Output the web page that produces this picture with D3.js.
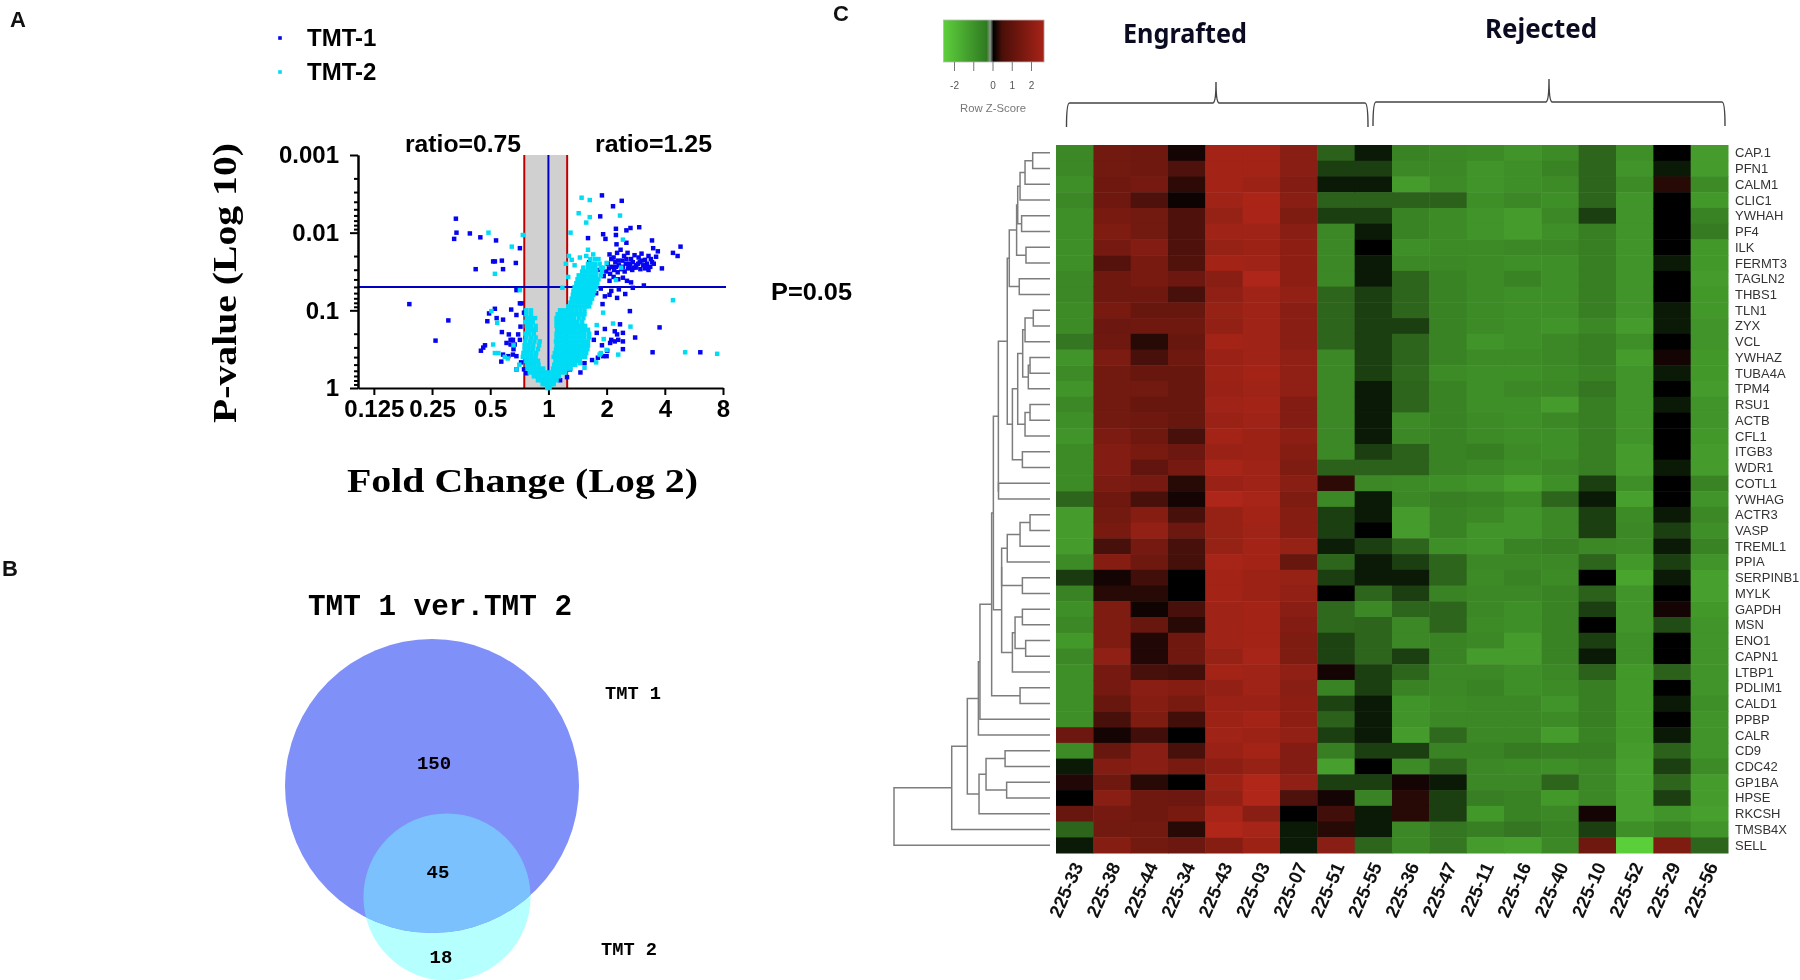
<!DOCTYPE html>
<html>
<head>
<meta charset="utf-8">
<script src="https://cdn.jsdelivr.net/npm/d3@7"></script>
<style>
html, body { margin: 0; background: #fff; }
svg { display: block; filter: blur(0.6px); }
</style>
</head>
<body>
<script>
// ---- panel A: volcano, values are [log2 fold change, -log10 p]
const foldTicks = [0.125, 0.25, 0.5, 1, 2, 4, 8];
const pTicks = [1, 0.1, 0.01, 0.001];
const pMinor = [0.9,0.8,0.7,0.6,0.5,0.4,0.3,0.2,0.09,0.08,0.07,0.06,0.05,0.04,0.03,0.02,0.009,0.008,0.007,0.006,0.005,0.004,0.003,0.002];
const ratioLines = [0.75, 1.25];
const pCut = 0.05;

const tmt1 = [
  [-1.59,2.18],[-1.58,2.0],[-1.62,1.92],[-1.35,1.99],[-1.17,1.94],[-0.9,1.9],[-0.49,1.8],[-0.92,1.63],[-0.95,1.63],[-0.8,1.64],
  [-0.56,1.61],[-0.78,1.53],[-1.25,1.53],[-2.39,1.08],[-1.72,0.87],[-1.94,0.61],[-0.55,1.26],[-0.92,1.02],[-1.02,0.96],[-1.05,0.86],
  [-0.89,0.9],[-0.78,0.88],[-0.64,1.01],[-0.55,0.94],[-0.49,1.09],[-0.46,1.09],[-0.42,0.97],[-0.48,0.79],[-0.8,0.72],[-0.68,0.69],
  [-0.65,0.62],[-0.61,0.62],[-0.65,0.56],[-0.58,0.56],[-0.49,0.62],[-0.52,0.69],[-1.16,0.48],[-1.09,0.55],[-1.12,0.52],[-0.78,0.43],
  [-0.61,0.43],[-0.81,0.34],[-0.69,0.41],[-0.55,0.41],[-0.55,0.24],[-0.42,0.24],[-0.38,0.19],[-0.6,0.5],[-0.72,0.58],[-0.47,0.33],
  [0.92,2.48],[1.11,2.34],[1.26,2.41],[0.89,2.21],[1.16,2.05],[1.16,1.97],[1.34,2.03],[1.41,2.06],[1.56,2.07],[0.68,1.93],
  [0.94,1.98],[0.98,1.92],[1.17,1.85],[1.34,1.87],[1.78,1.9],[2.27,1.82],[2.14,1.74],[2.22,1.7],[1.95,1.54],[1.8,1.8],[1.88,1.76],
  [1.05,1.72],[1.12,1.68],[1.18,1.74],[1.24,1.78],[1.3,1.7],[1.36,1.74],[1.42,1.66],[1.48,1.71],[1.55,1.68],[1.6,1.73],[1.66,1.65],
  [1.72,1.7],[1.78,1.62],[1.85,1.69],[1.02,1.6],[1.09,1.56],[1.15,1.62],[1.21,1.58],[1.27,1.64],[1.33,1.6],[1.39,1.57],[1.45,1.62],
  [1.51,1.58],[1.57,1.62],[1.63,1.58],[1.69,1.6],[1.75,1.56],[1.81,1.6],[0.99,1.5],[1.06,1.47],[1.13,1.52],[1.19,1.49],[1.25,1.53],
  [1.31,1.5],[1.37,1.54],[1.44,1.52],[1.5,1.55],[1.58,1.53],[1.66,1.54],[1.72,1.52],[1.12,1.43],[1.2,1.4],[1.28,1.42],[1.05,1.38],
  [1.35,1.38],[1.42,1.36],[0.95,1.44],[0.88,1.52],[0.8,1.58],[0.7,1.62],
  [1.08,1.66],[1.2,1.64],[1.34,1.66],[1.46,1.55],[1.54,1.6],[1.6,1.64],[1.68,1.57],[1.76,1.66],[1.04,1.54],[1.16,1.56],[1.28,1.56],[1.4,1.6],
  [1.64,1.32],[1.45,1.29],[1.32,1.21],[1.21,1.27],[1.08,1.25],[0.97,1.18],[1.05,1.2],[1.18,1.16],[0.93,1.08],[0.9,1.28],[0.82,1.22],
  [1.4,0.99],[1.23,0.82],[1.14,0.73],[0.97,0.76],[0.83,0.71],[1.91,0.78],[1.49,0.65],[1.28,0.71],[1.18,0.69],[1.08,0.62],[1.14,0.6],
  [1.06,0.58],[1.2,0.62],[1.28,0.6],[1.28,0.5],[1.79,0.46],[2.61,0.46],[0.94,0.41],[1.0,0.41],[0.85,0.39],[0.65,0.51],[0.62,0.32],
  [0.37,0.24],[0.25,0.24],[0.75,0.36],[0.55,0.2],[0.92,0.55],[1.01,0.48],[0.78,0.62],[0.2,0.1],[0.32,0.14]
];
const tmt2 = [
  [0.57,2.45],[0.71,2.42],[0.52,2.25],[1.23,2.22],[0.71,2.2],[0.65,2.13],[0.38,2.0],[-0.44,1.97],[-1.03,2.0],[-0.63,1.82],[-0.92,1.47],
  [-0.49,1.26],[1.28,1.91],[0.35,1.7],[0.34,1.43],[0.24,1.29],[0.68,1.78],[0.77,1.72],[0.65,1.7],[0.54,1.68],[1.0,1.61],[1.25,1.55],
  [1.16,1.39],[0.4,1.65],[0.45,1.58],[0.3,1.6],[-0.98,0.99],[-0.88,0.84],[-0.95,0.56],[-0.92,0.45],[-0.86,0.45],[-0.55,0.24],[0.94,0.97],
  [0.83,0.81],[1.11,0.83],[1.41,0.79],[1.2,0.43],[1.0,0.49],[0.88,0.43],[0.62,0.26],[0.54,0.32],[2.14,1.13],[2.35,0.46],[2.9,0.44],
  [-0.6,0.55],[-0.7,0.38],[-0.75,0.4],[-0.5,0.3],[0.95,0.63],[0.9,0.45],[0.82,0.33]
];
// dense part of the v, one line per -log10 p level
const tmt2Dense = [
  [0.0,[-0.02,0.02]],
  [0.05,[-0.1,-0.05,0,0.05,0.09]],
  [0.1,[-0.18,-0.12,-0.07,-0.02,0.04,0.09,0.14]],
  [0.15,[-0.25,-0.18,-0.12,-0.06,0,0.06,0.12,0.18]],
  [0.2,[-0.32,-0.26,-0.2,-0.14,-0.08,-0.02,0.05,0.11,0.17,0.23,0.29]],
  [0.25,[-0.36,-0.29,-0.22,-0.16,-0.09,0.08,0.14,0.2,0.26,0.32,0.38]],
  [0.3,[-0.37,-0.3,-0.24,-0.17,0.1,0.16,0.22,0.28,0.34,0.4,0.46]],
  [0.35,[-0.38,-0.31,-0.25,-0.18,0.12,0.18,0.24,0.3,0.36,0.42,0.48,0.54]],
  [0.4,[-0.44,-0.36,-0.29,-0.22,0.09,0.15,0.21,0.27,0.33,0.39,0.45,0.51,0.57,0.63]],
  [0.45,[-0.43,-0.36,-0.29,-0.21,0.11,0.17,0.23,0.29,0.35,0.41,0.47,0.53,0.59,0.65]],
  [0.5,[-0.41,-0.34,-0.27,-0.18,0.13,0.19,0.25,0.31,0.37,0.43,0.49,0.55,0.61,0.67]],
  [0.55,[-0.41,-0.34,-0.26,-0.16,0.14,0.2,0.26,0.32,0.38,0.44,0.5,0.56,0.62,0.68]],
  [0.6,[-0.4,-0.32,-0.24,-0.15,0.13,0.19,0.25,0.31,0.37,0.43,0.49,0.55,0.61,0.68]],
  [0.65,[-0.38,-0.3,-0.22,0.14,0.2,0.26,0.32,0.38,0.44,0.5,0.56,0.62,0.7]],
  [0.7,[-0.4,-0.33,-0.25,0.14,0.2,0.26,0.32,0.38,0.44,0.5,0.56,0.62,0.7]],
  [0.75,[-0.35,-0.28,-0.22,0.15,0.21,0.27,0.33,0.39,0.45,0.51,0.57,0.63,0.68]],
  [0.8,[-0.37,-0.3,-0.22,0.14,0.2,0.26,0.32,0.38,0.44,0.5,0.56,0.63]],
  [0.85,[-0.4,-0.33,-0.27,0.14,0.2,0.26,0.32,0.38,0.44,0.5,0.58]],
  [0.9,[-0.37,-0.3,-0.23,0.14,0.2,0.26,0.32,0.38,0.44,0.52,0.6]],
  [0.95,[-0.38,-0.3,0.16,0.23,0.3,0.37,0.44,0.5,0.56,0.62]],
  [1.0,[-0.38,-0.3,0.2,0.27,0.34,0.41,0.48,0.55,0.62]],
  [1.05,[0.34,0.4,0.46,0.52,0.58,0.64,0.7]],
  [1.1,[0.38,0.44,0.5,0.56,0.62,0.68,0.72]],
  [1.15,[0.4,0.46,0.52,0.58,0.64,0.7,0.75]],
  [1.2,[0.42,0.48,0.54,0.6,0.66,0.72,0.77]],
  [1.25,[0.43,0.49,0.55,0.61,0.67,0.73,0.79]],
  [1.3,[0.45,0.51,0.57,0.63,0.69,0.75,0.82]],
  [1.35,[0.48,0.54,0.6,0.66,0.72,0.78,0.84]],
  [1.4,[0.5,0.56,0.62,0.68,0.74,0.8,0.86]],
  [1.45,[0.52,0.58,0.64,0.7,0.76,0.82,0.9]],
  [1.5,[0.58,0.64,0.7,0.76,0.82,0.92]],
  [1.55,[0.6,0.68,0.74,0.8,0.9,0.94]],
  [1.6,[0.68,0.74,0.8,0.88]],
  [1.66,[0.72,0.8,0.86]]
];
const volcanoLegend = ['TMT-1', 'TMT-2'];
const volcanoColors = ['#0505f0', '#00dcf5'];

// ---- panel B: venn
const vennTitle = 'TMT 1 ver.TMT 2';
const vennCounts = [150, 45, 18];
const vennNames = ['TMT 1', 'TMT 2'];

// ---- panel C: heatmap
const genes = ['CAP.1','PFN1','CALM1','CLIC1','YWHAH','PF4','ILK','FERMT3','TAGLN2','THBS1','TLN1','ZYX','VCL','YWHAZ','TUBA4A','TPM4','RSU1','ACTB','CFL1','ITGB3','WDR1','COTL1','YWHAG','ACTR3','VASP','TREML1','PPIA','SERPINB1','MYLK','GAPDH','MSN','ENO1','CAPN1','LTBP1','PDLIM1','CALD1','PPBP','CALR','CD9','CDC42','GP1BA','HPSE','RKCSH','TMSB4X','SELL'];
const samples = ['225-33','225-38','225-44','225-34','225-43','225-03','225-07','225-51','225-55','225-36','225-47','225-11','225-16','225-40','225-10','225-52','225-29','225-56'];
// z-scores, one list per sample, genes top to bottom
const z33 = [-1.6,-1.6,-1.7,-1.6,-1.7,-1.7,-1.7,-1.7,-1.6,-1.6,-1.65,-1.65,-1.4,-1.75,-1.65,-1.75,-1.6,-1.7,-1.75,-1.65,-1.65,-1.65,-1.2,-1.85,-1.85,-1.85,-1.65,-0.7,-1.55,-1.7,-1.6,-1.8,-1.6,-1.7,-1.7,-1.7,-1.7,1.65,-1.65,-0.3,0.5,0,1.6,-1.2,-0.3];
const z38 = [1.75,1.75,1.7,1.7,1.85,1.95,1.8,1.3,1.7,1.7,1.85,1.65,1.7,1.9,1.75,1.75,1.75,1.75,1.9,2.0,2.0,1.9,1.7,1.75,1.85,1.1,2.05,0.3,0.6,1.95,1.95,1.95,2.2,1.8,1.8,1.6,1.1,0.3,1.6,2.0,1.7,2.1,1.8,1.75,2.05];
const z44 = [1.7,1.7,1.8,1.2,1.75,1.75,2.0,1.85,1.85,1.7,1.6,1.7,0.6,1.1,1.6,1.75,1.6,1.7,1.7,1.85,1.5,1.8,1.1,2.05,2.25,1.8,1.7,1.0,0.6,0.25,1.6,0.5,0.5,1.1,2.1,2.05,1.95,1.0,2.1,2.1,0.6,1.7,1.7,1.75,1.75];
const z34 = [0.3,1.2,0.7,0.2,1.2,1.2,1.2,1.25,1.65,1.1,1.6,1.7,1.6,1.7,1.6,1.6,1.6,1.6,1.1,1.65,1.8,0.6,0.3,1.1,1.65,1.1,1.05,0,0,1.1,0.6,1.7,1.7,1.0,2.05,1.85,1.0,0,1.1,1.85,0,1.65,1.85,0.6,1.65];
const z43 = [2.5,2.5,2.5,2.45,2.3,2.45,2.3,2.5,2.1,2.2,2.3,2.25,2.5,2.35,2.4,2.35,2.45,2.35,2.5,2.35,2.55,2.35,2.65,2.3,2.3,2.3,2.55,2.5,2.5,2.45,2.45,2.45,2.3,2.5,2.25,2.35,2.4,2.45,2.35,2.15,2.4,2.25,2.55,2.7,2.05];
const z03 = [2.5,2.5,2.4,2.6,2.6,2.45,2.4,2.45,2.65,2.45,2.45,2.45,2.45,2.45,2.5,2.45,2.5,2.45,2.4,2.4,2.45,2.45,2.55,2.5,2.45,2.5,2.5,2.4,2.4,2.5,2.5,2.5,2.55,2.45,2.45,2.35,2.5,2.4,2.5,2.3,2.7,2.7,2.1,2.55,2.4];
const z07 = [2.1,2.1,2.0,2.1,1.95,2.1,2.15,2.15,2.15,2.25,2.1,2.1,2.1,2.2,2.2,2.2,2.0,2.0,2.15,2.05,1.95,2.1,1.95,2.05,2.05,2.3,1.6,2.3,2.25,2.1,2.0,1.95,1.95,2.2,2.1,2.15,2.15,2.25,2.0,2.0,2.2,1.2,0,-0.3,-0.3];
const z51 = [-1.15,-0.75,-0.3,-1.15,-0.75,-1.6,-1.6,-1.6,-1.6,-1.2,-1.2,-1.2,-1.2,-1.6,-1.6,-1.6,-1.6,-1.6,-1.6,-1.6,-1.15,0.7,-1.6,-0.75,-0.75,-0.35,-1.2,-0.75,0,-1.25,-1.25,-0.8,-0.8,0.3,-1.55,-0.8,-1.15,-0.75,-1.5,-1.9,-0.75,0.3,1.0,0.6,2.1];
const z55 = [-0.3,-0.75,-0.3,-1.15,-0.75,-0.3,0,-0.3,-0.3,-0.75,-0.75,-0.75,-0.75,-0.75,-0.75,-0.3,-0.3,-0.3,-0.3,-0.75,-1.15,-1.6,-0.3,-0.3,0,-0.75,-0.3,-0.3,-1.2,-1.6,-1.2,-1.2,-1.2,-0.75,-0.75,-0.3,-0.3,-0.3,-0.75,0,-0.75,-1.55,-0.3,-0.3,-1.2];
const z36 = [-1.55,-1.6,-1.85,-1.15,-1.55,-1.55,-1.7,-1.6,-1.2,-1.2,-1.2,-0.75,-1.2,-1.2,-1.25,-1.2,-1.2,-1.65,-1.6,-1.15,-1.15,-1.65,-1.6,-1.85,-1.85,-1.2,-0.75,-0.3,-0.75,-1.2,-1.6,-1.6,-0.75,-1.2,-1.55,-1.75,-1.75,-1.85,-0.75,-1.65,0.3,0.6,0.6,-1.6,-1.6];
const z47 = [-1.6,-1.6,-1.65,-1.15,-1.65,-1.65,-1.65,-1.6,-1.55,-1.55,-1.55,-1.55,-1.55,-1.55,-1.65,-1.55,-1.55,-1.55,-1.55,-1.55,-1.55,-1.7,-1.5,-1.55,-1.55,-1.7,-1.2,-1.2,-1.55,-1.2,-1.2,-1.55,-1.55,-1.6,-1.6,-1.65,-1.6,-1.25,-1.55,-1.2,-0.3,-0.75,-0.75,-1.4,-1.4];
const z11 = [-1.65,-1.75,-1.75,-1.7,-1.75,-1.75,-1.65,-1.65,-1.65,-1.65,-1.65,-1.65,-1.75,-1.65,-1.7,-1.7,-1.7,-1.65,-1.65,-1.5,-1.6,-1.75,-1.55,-1.6,-1.75,-1.75,-1.6,-1.65,-1.6,-1.6,-1.65,-1.6,-1.85,-1.6,-1.55,-1.6,-1.6,-1.6,-1.55,-1.6,-1.6,-1.5,-1.8,-1.5,-1.85];
const z16 = [-1.75,-1.7,-1.7,-1.6,-1.85,-1.85,-1.6,-1.7,-1.55,-1.7,-1.7,-1.7,-1.7,-1.65,-1.7,-1.6,-1.7,-1.7,-1.7,-1.65,-1.7,-1.9,-1.65,-1.75,-1.75,-1.55,-1.6,-1.55,-1.6,-1.7,-1.7,-1.85,-1.85,-1.7,-1.7,-1.6,-1.6,-1.6,-1.45,-1.65,-1.6,-1.55,-1.55,-1.4,-1.9];
const z40 = [-1.65,-1.55,-1.65,-1.7,-1.6,-1.7,-1.6,-1.7,-1.7,-1.7,-1.7,-1.75,-1.6,-1.6,-1.65,-1.6,-1.85,-1.6,-1.7,-1.7,-1.6,-1.7,-1.2,-1.6,-1.6,-1.5,-1.6,-1.65,-1.55,-1.55,-1.55,-1.55,-1.55,-1.6,-1.65,-1.75,-1.65,-1.85,-1.5,-1.7,-1.2,-1.8,-1.6,-1.55,-1.6];
const z10 = [-1.2,-1.2,-1.2,-1.2,-0.75,-1.5,-1.5,-1.5,-1.5,-1.5,-1.5,-1.6,-1.5,-1.5,-1.55,-1.4,-1.5,-1.5,-1.5,-1.5,-1.5,-0.75,-0.3,-0.75,-0.75,-1.6,-1.2,0,-1.15,-0.75,0,-0.75,-0.3,-1.15,-1.5,-1.5,-1.5,-1.55,-1.5,-1.6,-1.6,-1.6,0.3,-0.75,1.7];
const z52 = [-1.7,-1.75,-1.65,-1.75,-1.75,-1.75,-1.75,-1.75,-1.75,-1.75,-1.75,-1.85,-1.7,-1.85,-1.75,-1.75,-1.75,-1.75,-1.75,-1.85,-1.85,-1.7,-1.9,-1.65,-1.6,-1.65,-1.8,-1.95,-1.75,-1.75,-1.75,-1.7,-1.7,-1.8,-1.8,-1.8,-1.8,-1.8,-1.85,-1.9,-1.9,-1.9,-1.9,-1.7,-2.45];
const z29 = [0,-0.3,0.6,0,0,0,0,-0.3,0,0,-0.3,-0.3,0,0.3,-0.3,0,-0.3,0,0,0,-0.3,0,0,-0.3,-0.75,-0.3,-0.75,-0.3,0,0.3,-0.9,0,0,-1.15,0,-0.3,0,-0.3,-1.15,-0.75,-1.2,-0.75,-1.75,-1.55,1.95];
const z56 = [-1.85,-1.85,-1.65,-1.8,-1.55,-1.45,-1.8,-1.8,-1.85,-1.8,-1.8,-1.75,-1.75,-1.8,-1.8,-1.85,-1.75,-1.75,-1.8,-1.85,-1.85,-1.55,-1.75,-1.6,-1.7,-1.55,-1.75,-1.9,-1.9,-1.8,-1.75,-1.75,-1.75,-1.75,-1.75,-1.7,-1.75,-1.75,-1.75,-1.65,-1.85,-1.85,-1.9,-1.75,-1.2];
const zColumns = [z33,z38,z44,z34,z43,z03,z07,z51,z55,z36,z47,z11,z16,z40,z10,z52,z29,z56];
const legendTicks = [-2, -1, 0, 1, 2];
const keyValues = [-2.55, -0.3, -0.12, 0.05, 0.5, 2.68];
const keyColors = ['#5ecf3c', '#2f7a22', '#8a9a88', '#000000', '#4a0f08', '#a82318'];
const groups = ['Engrafted', 'Rejected'];
// gene tree: [merge height, upper, lower], a bare number is a row index
const geneTree = [100,
  [63,
    [53,
      [45.9,
        [44.9,
          [37.4,
            [36.3,
              [33.1,
                [27.4,
                  [26.1,
                    [21.4,
                      [20.7, [19.2,[16,[11.1,0,1],2],3], [18.2,4,5]],
                      [15.4,6,7]],
                    [19.7,8,9]],
                  [24.1,
                    [20.7,
                      [17.5, [16,[10.7,10,11],12], [13.9,[12.8,13,14],15]],
                      [16,[12.8,16,17],18]],
                    [17.7,19,20]]],
                [33,21,22]],
              [31,
                [31,
                  [27.4,[19.2,[12.8,23,24],25],26],
                  [17.7,27,28]],
                [24.1,[22.4,[17.7,29,30],[15.6,31,32]],33]]],
            [19.2,34,35]],
          36],
        37],
      [45.5,
        [41,[28.8,38,39],[27.8,40,41]],
        42]],
    43],
  44];

// ---- layout
const width = 1800, height = 980;
const svg = d3.select('body').append('svg').attr('width', width).attr('height', height);
const sans = 'Liberation Sans, Arial, sans-serif';
const serif = 'Liberation Serif, Times New Roman, serif';
const mono = 'Liberation Mono, Courier New, monospace';
const note = 'Noto Sans, Open Sans, sans-serif';

function addText(parent, t, x, y, size, family, opts) {
  opts = opts || {};
  let el = parent.append('text').attr('x', x).attr('y', y)
    .style('font-family', family).style('font-size', size + 'px')
    .style('font-weight', opts.weight || 'normal')
    .attr('fill', opts.fill || '#000')
    .attr('text-anchor', opts.anchor || 'start')
    .text(t);
  if (opts.length) el.attr('textLength', opts.length).attr('lengthAdjust', 'spacingAndGlyphs');
  if (opts.rotate !== undefined) el.attr('transform', 'rotate(' + opts.rotate + ',' + x + ',' + y + ')');
  return el;
}

addText(svg, 'A', 10, 27, 22, sans, {weight: 'bold', fill: '#111'});
addText(svg, 'B', 2, 576, 22, sans, {weight: 'bold', fill: '#111'});
addText(svg, 'C', 833, 21, 22, sans, {weight: 'bold', fill: '#111'});

drawVolcano();
drawVenn();
drawHeatmap();
drawTree();

function drawVolcano() {
  const x = d3.scaleLog().base(2).domain([0.1035, 8]).range([358, 723]);
  const y = d3.scaleLog().domain([1, 0.001]).range([388, 155]);
  const g = svg.append('g');

  g.append('rect').attr('x', x(ratioLines[0])).attr('y', y(0.001))
    .attr('width', x(ratioLines[1]) - x(ratioLines[0])).attr('height', y(1) - y(0.001))
    .attr('fill', '#d0d0d0');
  g.selectAll('.ratio').data(ratioLines).enter().append('line')
    .attr('x1', d => x(d)).attr('x2', d => x(d)).attr('y1', y(0.001)).attr('y2', y(1))
    .attr('stroke', '#c00000').attr('stroke-width', 2);
  g.append('line').attr('x1', x(1)).attr('x2', x(1)).attr('y1', y(0.001)).attr('y2', y(1))
    .attr('stroke', '#0000c0').attr('stroke-width', 2);
  g.append('line').attr('x1', x.range()[0]).attr('x2', 726).attr('y1', y(pCut)).attr('y2', y(pCut))
    .attr('stroke', '#0000c0').attr('stroke-width', 2);

  let xAxis = g.append('g').attr('transform', 'translate(0,' + y(1) + ')')
    .call(d3.axisBottom(x).tickValues(foldTicks).tickFormat(d => d).tickSize(7).tickSizeOuter(0));
  let yMinor = g.append('g').attr('transform', 'translate(' + x.range()[0] + ',0)')
    .call(d3.axisLeft(y).tickValues(pMinor).tickFormat('').tickSize(4).tickSizeOuter(0));
  let yAxis = g.append('g').attr('transform', 'translate(' + x.range()[0] + ',0)')
    .call(d3.axisLeft(y).tickValues(pTicks).tickFormat(d => d).tickSize(8).tickSizeOuter(0));
  [xAxis, yMinor, yAxis].forEach(a => {
    a.selectAll('path,line').attr('stroke', '#000').attr('stroke-width', 2);
    a.selectAll('text').style('font-family', sans).style('font-size', '24px')
      .style('font-weight', 'bold').attr('fill', '#000');
  });
  xAxis.selectAll('text').attr('dy', '0.71em').attr('y', 12);
  yAxis.selectAll('text').attr('x', -19);

  // points
  const square = d3.symbol().type(d3.symbolSquare).size(20);
  const dense = tmt2Dense.flatMap(r => r[1].map(f => [f, r[0]]));
  [tmt1, tmt2.concat(dense)].forEach((pts, i) => {
    g.append('g').selectAll('path').data(pts).enter().append('path')
      .attr('d', square)
      .attr('transform', d => 'translate(' + x(Math.pow(2, d[0])) + ',' + y(Math.pow(10, -d[1])) + ')')
      .attr('fill', volcanoColors[i]);
  });

  // legend
  volcanoLegend.forEach((name, i) => {
    g.append('path').attr('d', d3.symbol().type(d3.symbolSquare).size(13)).attr('transform', 'translate(280,' + (38 + i * 34) + ')')
      .attr('fill', volcanoColors[i]);
    addText(g, name, 307, 46 + i * 34, 24, sans, {weight: 'bold'});
  });

  addText(g, 'ratio=0.75', 405, 152, 24, sans, {weight: 'bold', length: 116});
  addText(g, 'ratio=1.25', 595, 152, 24, sans, {weight: 'bold', length: 117});
  addText(g, 'P=0.05', 771, 300, 23, sans, {weight: 'bold', length: 81});
  addText(g, 'P-value (Log 10)', 236, 423, 33, serif, {weight: 'bold', length: 280, rotate: -90});
  addText(g, 'Fold Change (Log 2)', 347, 492, 34, serif, {weight: 'bold', length: 351});
}

function drawVenn() {
  const g = svg.append('g');
  const r = d3.scaleSqrt().domain([0, vennCounts[0] + vennCounts[1]]).range([0, 147]);
  const big = {x: 432, y: 786, r: r(vennCounts[0] + vennCounts[1])};
  const small = {x: 447, y: 897, r: r(vennCounts[1] + vennCounts[2])};

  g.append('clipPath').attr('id', 'vennClip').append('circle')
    .attr('cx', big.x).attr('cy', big.y).attr('r', big.r);
  g.append('circle').attr('cx', small.x).attr('cy', small.y).attr('r', small.r).attr('fill', '#b6ffff');
  g.append('circle').attr('cx', big.x).attr('cy', big.y).attr('r', big.r).attr('fill', '#8090f9');
  g.append('circle').attr('cx', small.x).attr('cy', small.y).attr('r', small.r)
    .attr('fill', '#7ac1fd').attr('clip-path', 'url(#vennClip)');

  addText(g, vennTitle, 308, 615, 29, mono, {weight: 'bold', length: 264});
  addText(g, vennCounts[0], 434, 769, 19, mono, {anchor: 'middle', weight: 'bold'});
  addText(g, vennCounts[1], 438, 878, 19, mono, {anchor: 'middle', weight: 'bold'});
  addText(g, vennCounts[2], 441, 963, 19, mono, {anchor: 'middle', weight: 'bold'});
  addText(g, vennNames[0], 605, 699, 18.7, mono, {weight: 'bold'});
  addText(g, vennNames[1], 601, 955, 18.7, mono, {weight: 'bold'});
}

function drawHeatmap() {
  const g = svg.append('g');
  const x = d3.scaleBand().domain(samples).range([1056, 1728]);
  const y = d3.scaleBand().domain(genes).range([145, 853]);
  const color = d3.scaleLinear().domain([-2.55, 0, 2.68])
    .range(['#5fd73c', '#000000', '#af2619']);

  samples.forEach((s, c) => {
    g.append('g').selectAll('rect').data(zColumns[c]).enter().append('rect')
      .attr('x', x(s)).attr('y', (d, i) => y(genes[i]))
      .attr('width', x.bandwidth() + 0.5).attr('height', y.bandwidth() + 0.5)
      .attr('fill', d => color(d));
  });

  g.selectAll('.gene').data(genes).enter().append('text')
    .attr('x', 1735).attr('y', d => y(d) + y.bandwidth() / 2).attr('dy', '0.35em')
    .style('font-family', sans).style('font-size', '13px').attr('fill', '#333')
    .text(d => d);

  samples.forEach(s => {
    addText(g, s, x(s) + x.bandwidth() / 2 + 9, 866, 18.5, sans,
      {anchor: 'end', rotate: -66, weight: 'bold', fill: '#111'});
  });

  // colour key
  const k = d3.scaleLinear().domain([-2, 2]).range([954, 1031]);
  const grad = svg.append('defs').append('linearGradient').attr('id', 'keyFill');
  const span = keyValues[keyValues.length - 1] - keyValues[0];
  keyValues.forEach((v, i) => {
    grad.append('stop').attr('offset', (v - keyValues[0]) / span).attr('stop-color', keyColors[i]);
  });
  g.append('rect').attr('x', k(keyValues[0])).attr('y', 20)
    .attr('width', k(keyValues[keyValues.length - 1]) - k(keyValues[0])).attr('height', 42)
    .attr('fill', 'url(#keyFill)').attr('stroke', '#bbb').attr('stroke-width', 0.8);
  let ax = g.append('g').attr('transform', 'translate(0,62)')
    .call(d3.axisBottom(k).tickValues(legendTicks).tickFormat(d => d === -1 ? '' : d).tickSize(9).tickSizeOuter(0));
  ax.select('.domain').remove();
  ax.selectAll('line').attr('stroke', '#777');
  ax.selectAll('text').style('font-family', sans).style('font-size', '10px').attr('fill', '#555').attr('y', 20);
  addText(g, 'Row Z-Score', 993, 112, 11, sans, {anchor: 'middle', fill: '#777', length: 66});

  // group braces
  function brace(x0, xt, x1, yt, ym, yb) {
    return 'M' + x0 + ',' + yb + 'Q' + x0 + ',' + ym + ' ' + (x0 + 3) + ',' + ym
      + 'L' + (xt - 3) + ',' + ym + 'Q' + xt + ',' + (ym - 1) + ' ' + xt + ',' + yt
      + 'Q' + xt + ',' + (ym - 1) + ' ' + (xt + 3) + ',' + ym
      + 'L' + (x1 - 3) + ',' + ym + 'Q' + x1 + ',' + ym + ' ' + x1 + ',' + yb;
  }
  g.append('path').attr('d', brace(1066.5, 1216, 1368, 82, 103, 127))
    .attr('fill', 'none').attr('stroke', '#444').attr('stroke-width', 1.4);
  g.append('path').attr('d', brace(1373, 1549, 1725, 79, 102, 126))
    .attr('fill', 'none').attr('stroke', '#444').attr('stroke-width', 1.4);
  addText(g, groups[0], 1123, 43, 27, note, {weight: 700, length: 124, fill: '#0a0a20'});
  addText(g, groups[1], 1485, 38, 27, note, {weight: 700, length: 112, fill: '#0a0a20'});
}

function drawTree() {
  const g = svg.append('g').attr('fill', 'none').attr('stroke', '#7d7d7d').attr('stroke-width', 1.5);
  const x = d3.scaleLinear().domain([0, 100]).range([1050, 894]);
  const y = d3.scaleBand().domain(d3.range(genes.length)).range([145, 853]);

  // returns the y of a node and draws its elbow
  function walk(node) {
    if (typeof node === 'number') return {h: 0, y: y(node) + y.bandwidth() / 2};
    const a = walk(node[1]), b = walk(node[2]);
    g.append('path').attr('d', 'M' + x(a.h) + ',' + a.y + 'H' + x(node[0]) + 'V' + b.y + 'H' + x(b.h));
    return {h: node[0], y: (a.y + b.y) / 2};
  }
  walk(geneTree);
}
</script>
</body>
</html>
